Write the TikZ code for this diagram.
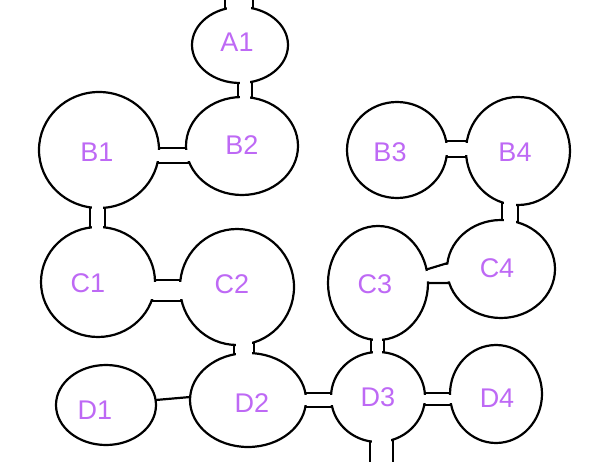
\documentclass[tikz,border=0pt]{standalone}
\usepackage{fontspec}
\setmainfont{Liberation Sans}
\definecolor{lbl}{RGB}{190,105,245}
\begin{document}
\begin{tikzpicture}[x=1pt,y=-1pt,
  wall/.style={line width=2.2pt,black,line cap=round,line join=round},
  blobfill/.style={fill=white},
  erase/.style={fill=white},
  lbltext/.style={text=lbl,font=\fontsize{27}{30}\selectfont,inner sep=0pt}]
\useasboundingbox (0,0) rectangle (610,462);
\clip (0,0) rectangle (610,462);
% blob centres
\coordinate (A1) at (240,45);
\coordinate (B1) at (99,150);
\coordinate (B2) at (242,146);
\coordinate (B3) at (397,150);
\coordinate (B4) at (518,151);
\coordinate (C1) at (98,282);
\coordinate (C2) at (237,287);
\coordinate (C3) at (378,283);
\coordinate (C4) at (501,269);
\coordinate (D1) at (106,405);
\coordinate (D2) at (248,400);
\coordinate (D3) at (378,397);
\coordinate (D4) at (496,394);
\coordinate (topend) at (240,-10);
\coordinate (botend) at (381,480);
% 1. neck walls (long; their inner parts are hidden by the blob fills)
\draw[wall] (225,45) -- (225,-10) (253,45) -- (253,-10);            % A1 top exit
\draw[wall] (238,45) -- (238,146) (252,45) -- (252,146);            % A1-B2
\draw[wall] (120,148) -- (220,148) (120,163) -- (220,163);          % B1-B2
\draw[wall] (90,150) -- (90,282) (105,150) -- (105,282);            % B1-C1
\draw[wall] (120,280) -- (215,280) (120,301) -- (215,301);          % C1-C2
\draw[wall] (234,287) -- (234,400) (254,287) -- (254,400);          % C2-D2
\draw[wall] (150,400.5) -- (196,396.5);                              % D1-D2
\draw[wall] (280,393) -- (355,393) (280,407) -- (355,407);          % D2-D3
\draw[wall] (371,283) -- (371,397) (384,283) -- (384,397);          % C3-D3
\draw[wall] (405,276) -- (470,256.3) (405,283) -- (470,283);        % C3-C4
\draw[wall] (502,151) -- (502,269) (518,151) -- (518,269);          % B4-C4
\draw[wall] (420,141) -- (495,141) (420,157) -- (495,157);          % B3-B4
\draw[wall] (400,393) -- (475,393) (400,405) -- (475,405);          % D3-D4
\draw[wall] (370,397) -- (370,480) (393,397) -- (393,480);          % D3 bottom exit
% 2. blob fills
\path[blobfill] (A1) ellipse [x radius=48, y radius=38];
\path[blobfill] (B1) ellipse [x radius=60, y radius=58];
\path[blobfill] (B2) ellipse [x radius=56, y radius=49];
\path[blobfill] (B3) ellipse [x radius=50, y radius=48];
\path[blobfill] (B4) ellipse [x radius=52, y radius=54];
\path[blobfill] (C1) ellipse [x radius=57, y radius=55];
\path[blobfill] (C2) ellipse [x radius=57, y radius=58];
\path[blobfill] (C3) ellipse [x radius=50, y radius=57];
\path[blobfill] (C4) ellipse [x radius=54, y radius=49];
\path[blobfill] (D1) ellipse [x radius=50, y radius=40];
\path[blobfill] (D2) ellipse [x radius=58, y radius=47];
\path[blobfill] (D3) ellipse [x radius=47, y radius=45];
\path[blobfill] (D4) ellipse [x radius=46, y radius=49];
% 3. blob outlines
\draw[wall] (A1) ellipse [x radius=48, y radius=38];
\draw[wall] (B1) ellipse [x radius=60, y radius=58];
\draw[wall] (B2) ellipse [x radius=56, y radius=49];
\draw[wall] (B3) ellipse [x radius=50, y radius=48];
\draw[wall] (B4) ellipse [x radius=52, y radius=54];
\draw[wall] (C1) ellipse [x radius=57, y radius=55];
\draw[wall] (C2) ellipse [x radius=57, y radius=58];
\draw[wall] (C3) ellipse [x radius=50, y radius=57];
\draw[wall] (C4) ellipse [x radius=54, y radius=49];
\draw[wall] (D1) ellipse [x radius=50, y radius=40];
\draw[wall] (D2) ellipse [x radius=58, y radius=47];
\draw[wall] (D3) ellipse [x radius=47, y radius=45];
\draw[wall] (D4) ellipse [x radius=46, y radius=49];
% 4. open the necks
\fill[erase] (226.6,25) rectangle (251.4,-10);
\fill[erase] (239.6,70) rectangle (250.4,110);
\fill[erase] (140,149.6) rectangle (205,161.4);
\fill[erase] (91.6,190) rectangle (103.4,245);
\fill[erase] (140,281.6) rectangle (195,299.4);
\fill[erase] (235.6,325) rectangle (252.4,372);
\fill[erase] (290,394.6) rectangle (345,405.4);
\fill[erase] (372.6,320) rectangle (382.4,370);
\fill[erase] (410,276.2) -- (465,259.4) -- (465,281.4) -- (410,281.4) -- cycle;
\fill[erase] (503.6,185) rectangle (516.4,240);
\fill[erase] (430,142.6) rectangle (485,155.4);
\fill[erase] (410,394.6) rectangle (465,403.4);
\fill[erase] (371.6,425) rectangle (391.4,480);
% 5. labels
\node[lbltext] (tA1) at (237,42) {A1};
\node[lbltext] (tB1) at (97,152) {B1};
\node[lbltext] (tB2) at (242,145) {B2};
\node[lbltext] (tB3) at (390,152) {B3};
\node[lbltext] (tB4) at (515,152) {B4};
\node[lbltext] (tC1) at (88,283) {C1};
\node[lbltext] (tC2) at (232,284) {C2};
\node[lbltext] (tC3) at (375,284) {C3};
\node[lbltext] (tC4) at (497,268) {C4};
\node[lbltext] (tD1) at (95,410) {D1};
\node[lbltext] (tD2) at (252,403) {D2};
\node[lbltext] (tD3) at (378,397) {D3};
\node[lbltext] (tD4) at (497,398) {D4};
\end{tikzpicture}
\end{document}
